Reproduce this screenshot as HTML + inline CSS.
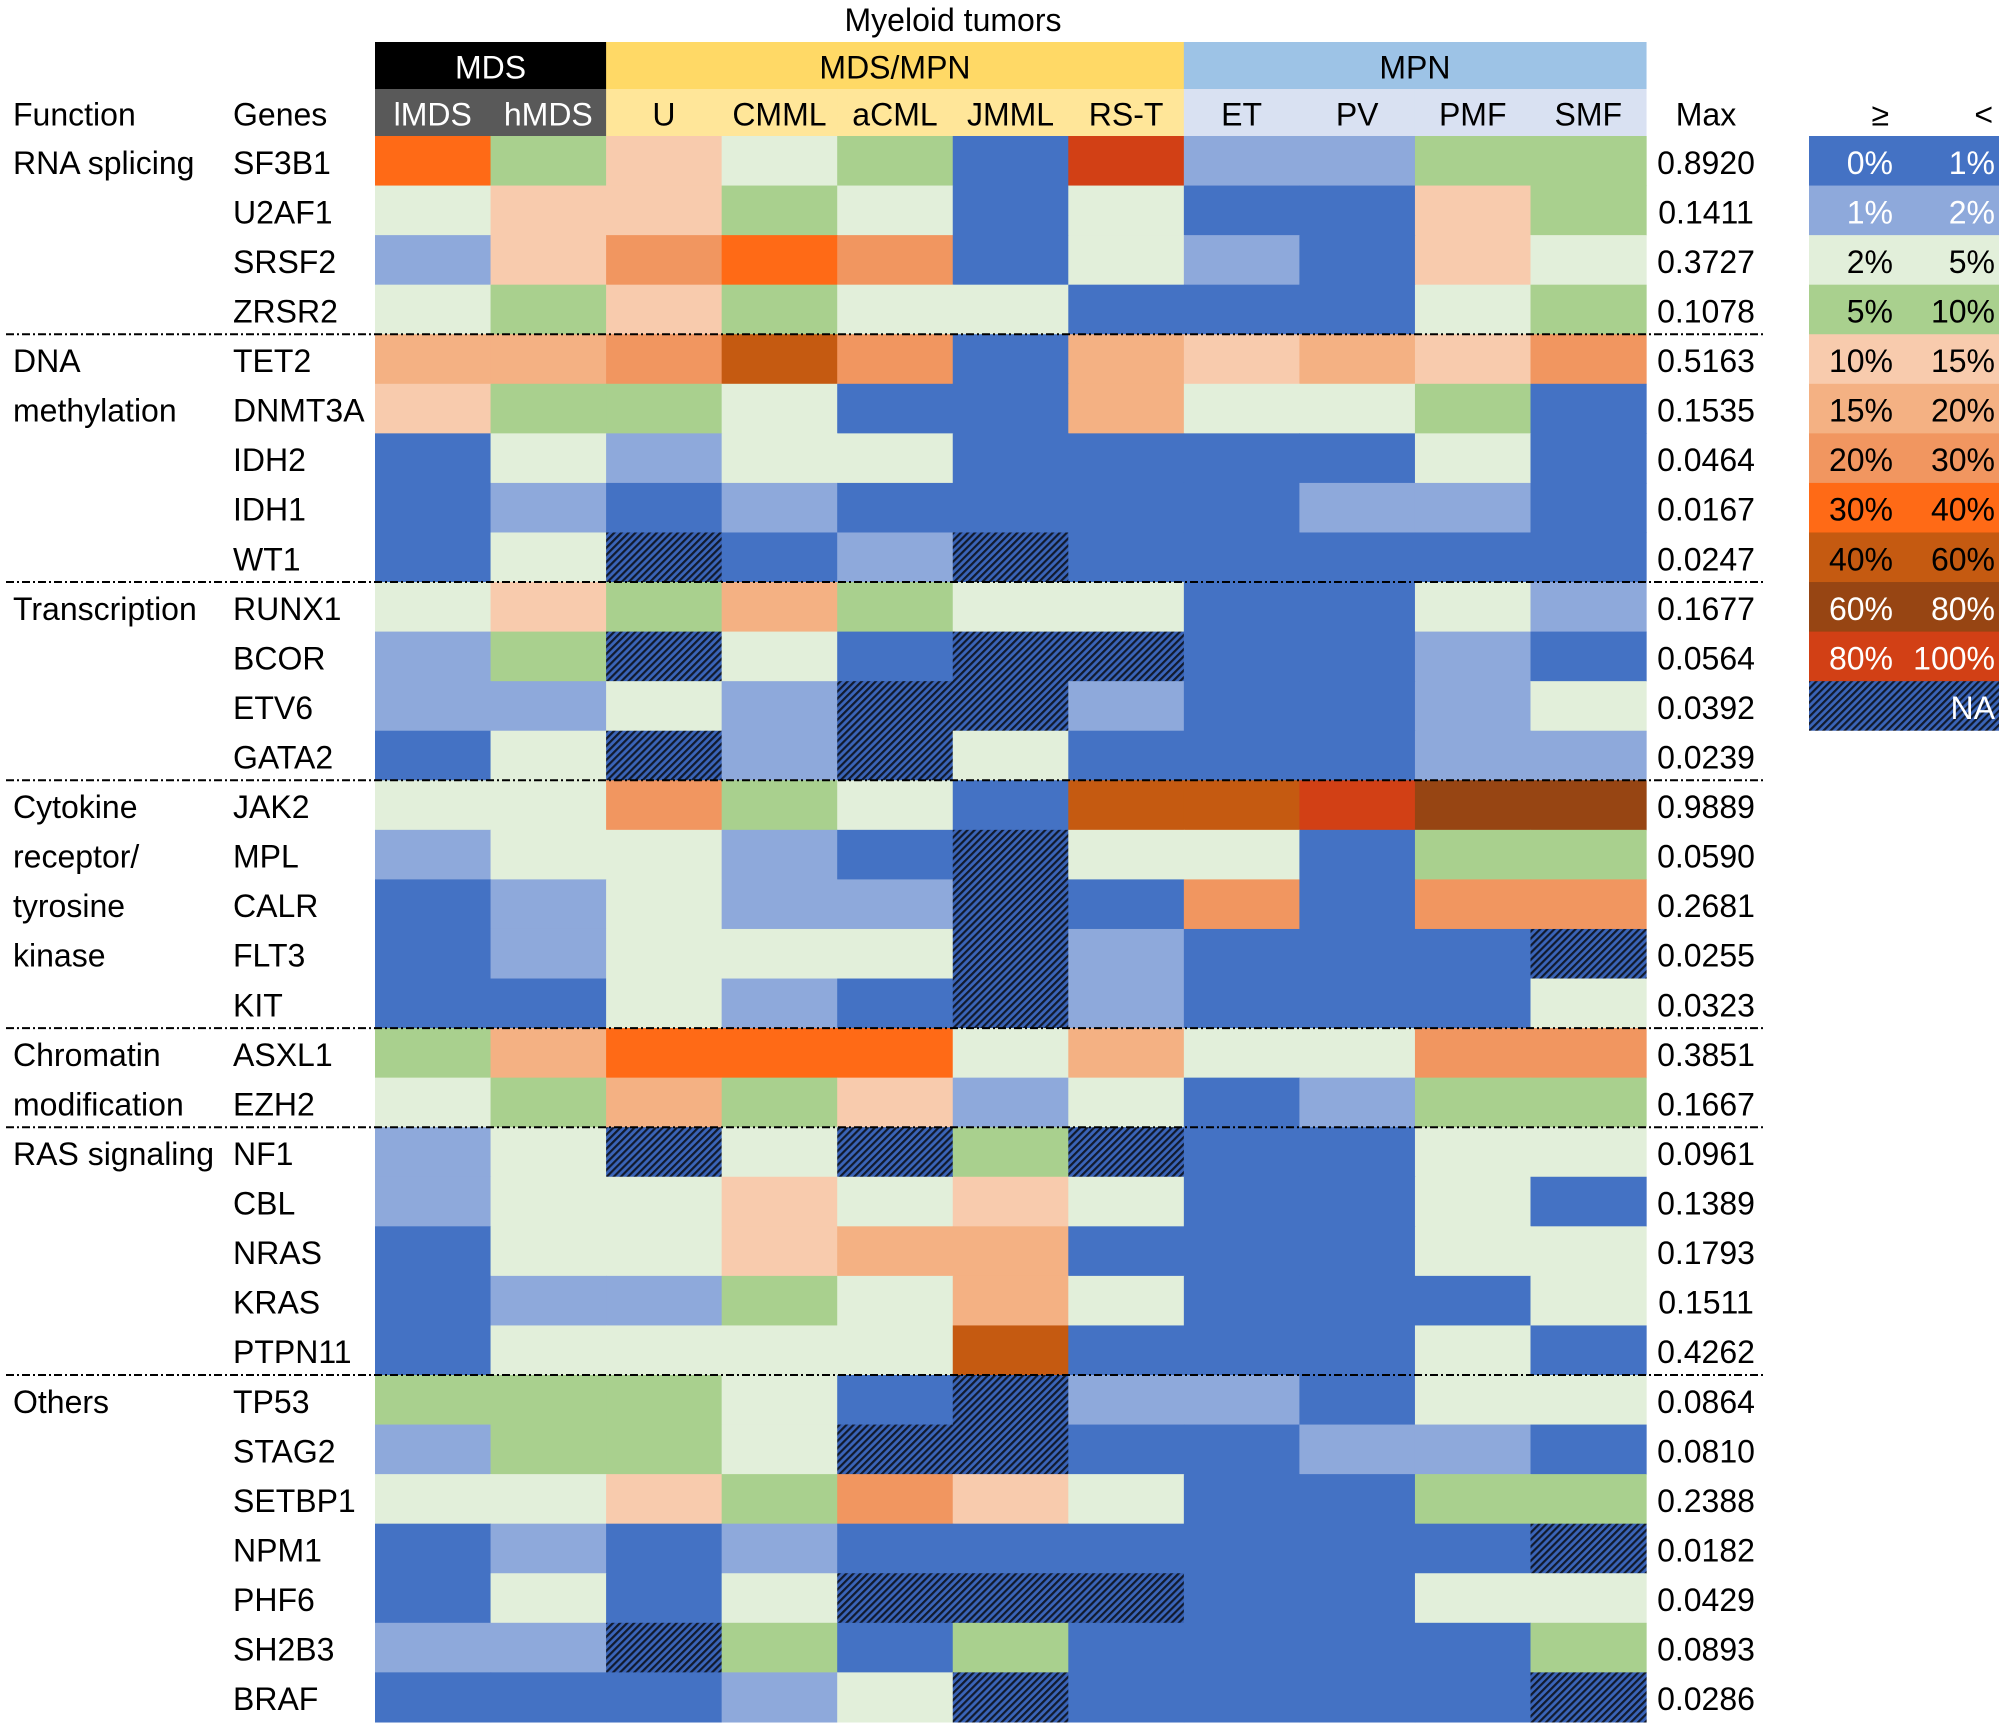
<!DOCTYPE html>
<html><head><meta charset="utf-8"><style>
html,body{margin:0;padding:0;background:#fff}
svg{display:block}
text{font-family:"Liberation Sans",sans-serif}
</style></head><body>
<svg id="chart" width="2008" height="1729" viewBox="0 0 2008 1729" xmlns="http://www.w3.org/2000/svg">
<defs>
<pattern id="hatch" patternUnits="userSpaceOnUse" width="5" height="5" patternTransform="rotate(-45)">
<rect width="5" height="5" fill="#3a64b8"/>
<rect width="5" height="2.2" fill="#111a2e"/>
</pattern>
</defs>
</svg>
<script>
const genes=["SF3B1","U2AF1","SRSF2","ZRSR2","TET2","DNMT3A","IDH2","IDH1","WT1","RUNX1","BCOR","ETV6","GATA2","JAK2","MPL","CALR","FLT3","KIT","ASXL1","EZH2","NF1","CBL","NRAS","KRAS","PTPN11","TP53","STAG2","SETBP1","NPM1","PHF6","SH2B3","BRAF"];
const subtypes=["lMDS","hMDS","U","CMML","aCML","JMML","RS-T","ET","PV","PMF","SMF"];
const maxVals=["0.8920","0.1411","0.3727","0.1078","0.5163","0.1535","0.0464","0.0167","0.0247","0.1677","0.0564","0.0392","0.0239","0.9889","0.0590","0.2681","0.0255","0.0323","0.3851","0.1667","0.0961","0.1389","0.1793","0.1511","0.4262","0.0864","0.0810","0.2388","0.0182","0.0429","0.0893","0.0286"];
// bin codes: 0..10 ranges, -1 = NA
const N=-1;
const bins=[
[7,3,4,2,3,0,10,1,1,3,3],
[2,4,4,3,2,0,2,0,0,4,3],
[1,4,6,7,6,0,2,1,0,4,2],
[2,3,4,3,2,2,0,0,0,2,3],
[5,5,6,8,6,0,5,4,5,4,6],
[4,3,3,2,0,0,5,2,2,3,0],
[0,2,1,2,2,0,0,0,0,2,0],
[0,1,0,1,0,0,0,0,1,1,0],
[0,2,N,0,1,N,0,0,0,0,0],
[2,4,3,5,3,2,2,0,0,2,1],
[1,3,N,2,0,N,N,0,0,1,0],
[1,1,2,1,N,N,1,0,0,1,2],
[0,2,N,1,N,2,0,0,0,1,1],
[2,2,6,3,2,0,8,8,10,9,9],
[1,2,2,1,0,N,2,2,0,3,3],
[0,1,2,1,1,N,0,6,0,6,6],
[0,1,2,2,2,N,1,0,0,0,N],
[0,0,2,1,0,N,1,0,0,0,2],
[3,5,7,7,7,2,5,2,2,6,6],
[2,3,5,3,4,1,2,0,1,3,3],
[1,2,N,2,N,3,N,0,0,2,2],
[1,2,2,4,2,4,2,0,0,2,0],
[0,2,2,4,5,5,0,0,0,2,2],
[0,1,1,3,2,5,2,0,0,0,2],
[0,2,2,2,2,8,0,0,0,2,0],
[3,3,3,2,0,N,1,1,0,2,2],
[1,3,3,2,N,N,0,0,1,1,0],
[2,2,4,3,6,4,2,0,0,3,3],
[0,1,0,1,0,0,0,0,0,0,N],
[0,2,0,2,N,N,N,0,0,2,2],
[1,1,N,3,0,3,0,0,0,0,3],
[0,0,0,1,2,N,0,0,0,0,N]];
const binLo=["0%","1%","2%","5%","10%","15%","20%","30%","40%","60%","80%"];
const binHi=["1%","2%","5%","10%","15%","20%","30%","40%","60%","80%","100%"];
const groups=[{name:"MDS",n:2},{name:"MDS/MPN",n:5},{name:"MPN",n:4}];
const funcs=[{row:0,lines:["RNA splicing"]},{row:4,lines:["DNA","methylation"]},{row:9,lines:["Transcription"]},{row:13,lines:["Cytokine","receptor/","tyrosine","kinase"]},{row:18,lines:["Chromatin","modification"]},{row:20,lines:["RAS signaling"]},{row:25,lines:["Others"]}];
const seps=[4,9,13,18,20,25];

const colors=["#4472C4","#8EA9DB","#E2EFDA","#A9D08E","#F8CBAD","#F4B183","#F19660","#FF6A16","#C55A11","#974513","#D24015"];
const txtCol=["#fff","#fff","#000","#000","#000","#000","#000","#000","#000","#fff","#fff"];
const groupFill=["#000000","#FFD966","#9DC3E6"], groupTxt=["#fff","#000","#000"];
const subFill=["#595959","#FFE699","#D9E1F2"], subTxt=["#fff","#000","#000"];

const X0=375,CW=115.55,Y0=136,RH=49.56,H1=42,H2=89,FS=32;
const svg=document.getElementById('chart');
const NS="http://www.w3.org/2000/svg";
const xs=c=>X0+c*CW, ys=r=>Y0+r*RH;
function mk(tag,a,parent){const e=document.createElementNS(NS,tag);for(const k in a)e.setAttribute(k,a[k]);(parent||svg).appendChild(e);return e;}
function txt(s,x,y,a){const e=mk('text',Object.assign({x:x,y:y,'font-size':FS,'dominant-baseline':'central'},a||{}));e.textContent=s;return e;}
const fillFor=b=>b<0?"url(#hatch)":colors[b];

let t=txt("Myeloid tumors",953,20,{'text-anchor':'middle'});



let gcol=0, groupOf=[];
groups.forEach((g,i)=>{
  const r=mk('rect',{x:xs(gcol),y:H1,width:g.n*CW+0.5,height:H2-H1,fill:groupFill[i]});
  
  
  const tt=txt(g.name,xs(gcol)+g.n*CW/2,(H1+H2)/2+2,{'text-anchor':'middle',fill:groupTxt[i]});
  
  
  for(let k=0;k<g.n;k++)groupOf.push(i);
  gcol+=g.n;
});
subtypes.forEach((s,c)=>{
  const gidx=groupOf[c];
  const r=mk('rect',{x:xs(c),y:H2,width:CW+0.5,height:Y0-H2,fill:subFill[gidx]});
  
  
  const tt=txt(s,xs(c)+CW/2,(H2+Y0)/2+2,{'text-anchor':'middle',fill:subTxt[gidx]});
  
  
});
t=txt("Function",13,(H2+Y0)/2+2);


t=txt("Genes",233,(H2+Y0)/2+2);


t=txt("Max",1706,(H2+Y0)/2+2,{'text-anchor':'middle'});



bins.forEach((row,r)=>{
  row.forEach((b,c)=>{
    const cell=mk('rect',{x:xs(c),y:ys(r),width:CW+0.6,height:RH+0.6,fill:fillFor(b)});
    
    
  });
  const g=txt(genes[r],233,ys(r)+RH/2+2);
  
  
  const m=txt(maxVals[r],1706,ys(r)+RH/2+2,{'text-anchor':'middle'});
  
  
});
funcs.forEach(f=>{
  f.lines.forEach((l,i)=>{
    const e=txt(l,13,ys(f.row+i)+RH/2+2);
    
    
  });
});
seps.forEach(r=>{
  const l=mk('line',{x1:6,x2:1765,y1:ys(r),y2:ys(r),stroke:'#000','stroke-width':2,'stroke-dasharray':'8,3,2,3'});
  
  
});
// legend
const LX0=1809,LX1=1999;
t=txt("\u2265",1889,(H2+Y0)/2+2,{'text-anchor':'end'});


t=txt("<",1993,(H2+Y0)/2+2,{'text-anchor':'end'});


binLo.forEach((lo,i)=>{
  const r=mk('rect',{x:LX0,y:ys(i),width:LX1-LX0,height:RH+0.6,fill:colors[i]});
  
  
  const a=txt(lo,1893,ys(i)+RH/2+2,{'text-anchor':'end',fill:txtCol[i]});
  
  
  const b=txt(binHi[i],1995,ys(i)+RH/2+2,{'text-anchor':'end',fill:txtCol[i]});
  
  
});
const na=mk('rect',{x:LX0,y:ys(11),width:LX1-LX0,height:RH,fill:"url(#hatch)"});


t=txt("NA",1995,ys(11)+RH/2+2,{'text-anchor':'end',fill:'#fff'});


</script>
</body></html>
